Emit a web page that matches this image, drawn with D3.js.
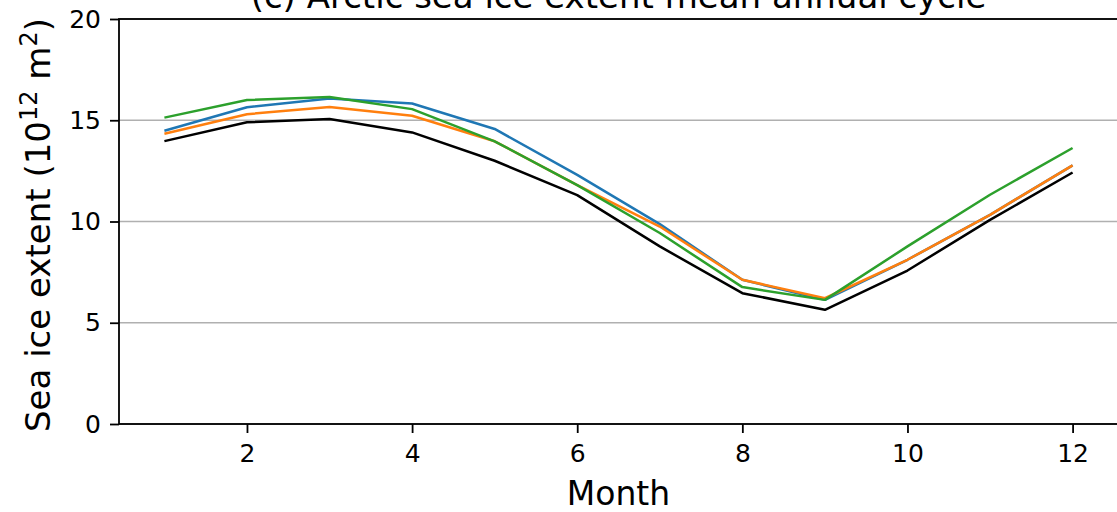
<!DOCTYPE html>
<html>
<head>
<meta charset="utf-8">
<script src="https://cdn.jsdelivr.net/npm/d3@7"></script>
<style>
  html, body { margin: 0; padding: 0; background: #fff; }
  svg { display: block; font-family: "DejaVu Sans", sans-serif; }
</style>
</head>
<body>
<svg id="chart" width="1117" height="512"></svg>
<script>
const months = [1, 2, 3, 4, 5, 6, 7, 8, 9, 10, 11, 12];
const obsBlack = [13.97, 14.9, 15.06, 14.4, 13.0, 11.3, 8.77, 6.46, 5.64, 7.58, 10.08, 12.42];
const seriesBlue = [14.48, 15.64, 16.07, 15.83, 14.57, 12.3, 9.87, 7.12, 6.13, 8.11, 10.33, 12.77];
const seriesOrange = [14.33, 15.3, 15.65, 15.22, 13.96, 11.8, 9.75, 7.12, 6.21, 8.11, 10.33, 12.77];
const seriesGreen = [15.13, 16.0, 16.15, 15.55, 13.96, 11.8, 9.43, 6.76, 6.13, 8.77, 11.32, 13.63];
const xTicks = [2, 4, 6, 8, 10, 12];
const yTicks = [0, 5, 10, 15, 20];
const titleText = "(c) Arctic sea ice extent mean annual cycle";
const xLabel = "Month";

(function () {
const svg = d3.select("#chart");
const mLeft = 119, mRight = 1118, mTop = 19, mBottom = 424;

const x = d3.scaleLinear().domain([0.45, 12.55]).range([mLeft, mRight]);
const y = d3.scaleLinear().domain([0, 20]).range([mBottom, mTop]);

// gridlines
svg.append("g")
  .selectAll("line")
  .data(yTicks)
  .join("line")
  .attr("x1", mLeft).attr("x2", mRight)
  .attr("y1", d => y(d)).attr("y2", d => y(d))
  .attr("stroke", "#b0b0b0")
  .attr("stroke-width", 1.6);

// lines
const line = d3.line().x((d, i) => x(months[i])).y(d => y(d));
const series = [
  { v: obsBlack, c: "#000000" },
  { v: seriesBlue, c: "#1f77b4" },
  { v: seriesOrange, c: "#ff7f0e" },
  { v: seriesGreen, c: "#2ca02c" }
];
svg.append("g")
  .selectAll("path")
  .data(series)
  .join("path")
  .attr("d", d => line(d.v))
  .attr("fill", "none")
  .attr("stroke", d => d.c)
  .attr("stroke-width", 2.5)
  .attr("stroke-linejoin", "round");

// axes
const xAxis = d3.axisBottom(x).tickValues(xTicks).tickSize(9).tickPadding(11.5).tickFormat(d3.format("d"));
const yAxis = d3.axisLeft(y).tickValues(yTicks).tickSize(9).tickPadding(9).tickFormat(d3.format("d"));

const gx = svg.append("g").attr("transform", `translate(0,${mBottom})`).call(xAxis);
const gy = svg.append("g").attr("transform", `translate(${mLeft},0)`).call(yAxis);
[gx, gy].forEach(g => {
  g.select(".domain").remove();
  g.selectAll(".tick line").attr("stroke", "#000").attr("stroke-width", 1.8);
  g.selectAll(".tick text").attr("fill", "#000")
    .style("font-family", "'DejaVu Sans', sans-serif").style("font-size", "25px");
});

// frame
svg.append("rect")
  .attr("x", mLeft).attr("y", mTop)
  .attr("width", mRight - mLeft).attr("height", mBottom - mTop)
  .attr("fill", "none").attr("stroke", "#000").attr("stroke-width", 1.8);

// title
svg.append("text")
  .attr("x", (mLeft + mRight) / 2).attr("y", 8)
  .attr("text-anchor", "middle")
  .style("font-size", "34px")
  .text(titleText);

// x label
svg.append("text")
  .attr("x", (mLeft + mRight) / 2).attr("y", 505)
  .attr("text-anchor", "middle")
  .style("font-size", "33px")
  .text(xLabel);

// y label
const yl = svg.append("text")
  .attr("transform", `translate(50,225) rotate(-90)`)
  .attr("text-anchor", "middle")
  .style("font-size", "34px");
yl.append("tspan").text("Sea ice extent (10");
yl.append("tspan").attr("dy", -13).style("font-size", "24px").text("12");
yl.append("tspan").attr("dy", 13).text(" m");
yl.append("tspan").attr("dy", -13).style("font-size", "24px").text("2");
yl.append("tspan").attr("dy", 13).text(")");
})();
</script>
</body>
</html>
